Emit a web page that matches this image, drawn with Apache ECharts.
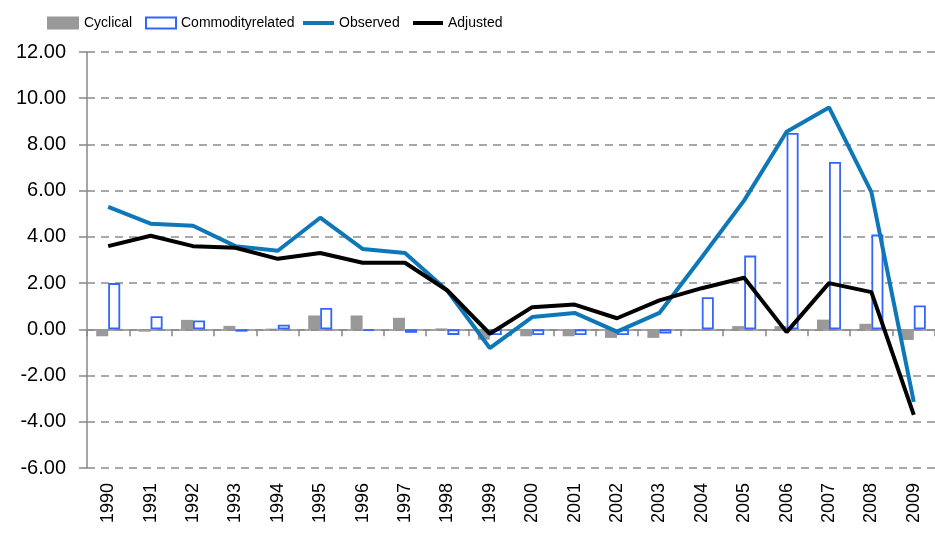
<!DOCTYPE html>
<html>
<head>
<meta charset="utf-8">
<script src="https://cdn.jsdelivr.net/npm/echarts@6/dist/echarts.min.js"></script>
<style>html,body{margin:0;padding:0;background:#fff}#c{width:935px;height:533px}</style>
</head>
<body>
<div id="c"></div>
<script>
var years = ['1990','1991','1992','1993','1994','1995','1996','1997','1998','1999','2000','2001','2002','2003','2004','2005','2006','2007','2008','2009'];
var cyclical = [-0.30,-0.10,0.41,0.15,0.03,0.60,0.60,0.50,0.04,-0.45,-0.30,-0.30,-0.37,-0.37,-0.05,0.14,0.14,0.42,0.24,-0.46];
var commodity = [2.00,0.57,0.38,-0.10,0.20,0.92,-0.07,-0.15,-0.24,-0.25,-0.25,-0.25,-0.25,-0.18,1.39,3.19,8.50,7.24,4.10,1.03];
var observed = [5.30,4.57,4.48,3.60,3.40,4.83,3.48,3.30,1.67,-0.81,0.53,0.71,-0.10,0.71,3.12,5.58,8.55,9.60,5.94,-3.14];
var adjusted = [3.60,4.05,3.60,3.53,3.05,3.30,2.88,2.88,1.68,-0.19,0.96,1.07,0.48,1.25,1.78,2.23,-0.12,2.00,1.61,-3.70];
var yTicks = {min:-6, max:12, interval:2};

var legendFont = {fontFamily:"'Liberation Sans',Arial,sans-serif", fontSize:14, color:'#000'};
var chart = echarts.init(document.getElementById('c'));
chart.setOption({
  animation:false,
  backgroundColor:'#fff',
  grid:{left:87, top:52, width:850, bottom:65, containLabel:false},
  legend:[
    {data:[{name:'Cyclical',icon:'rect'}], left:42, top:11, itemWidth:32, itemHeight:13, textStyle:legendFont},
    {data:[{name:'Commodityrelated',icon:'rect'}], left:140, top:11, itemWidth:30, itemHeight:11, textStyle:legendFont},
    {data:[{name:'Observed',icon:'rect'}], left:298, top:11, itemWidth:31, itemHeight:4, textStyle:legendFont},
    {data:[{name:'Adjusted',icon:'rect'}], left:408, top:11, itemWidth:30, itemHeight:4, textStyle:legendFont}
  ],
  xAxis:[
    {type:'category', data:years, boundaryGap:true,
     axisLine:{onZero:true, lineStyle:{color:'#888', width:1.5}},
     axisTick:{show:true, length:7, lineStyle:{color:'#888', width:1.5}},
     axisLabel:{show:false}, splitLine:{show:false}},
    {type:'category', data:years, position:'bottom', boundaryGap:true,
     axisLine:{show:false, onZero:false}, axisTick:{show:false},
     axisLabel:{show:true, rotate:90, margin:15, fontSize:18, color:'#000', fontFamily:"'Liberation Sans',Arial,sans-serif"}}
  ],
  yAxis:{type:'value', min:yTicks.min, max:yTicks.max, interval:yTicks.interval,
    axisLine:{show:true, lineStyle:{color:'#888', width:1.5}},
    axisTick:{show:true, inside:false, length:8, lineStyle:{color:'#888', width:1.5}},
    axisLabel:{margin:21, fontSize:20, color:'#000', fontFamily:"'Liberation Sans',Arial,sans-serif",
      formatter:function(v){return v.toFixed(2);}},
    splitLine:{show:true, lineStyle:{color:'#8c8c8c', width:1.5, type:[8,6]}}
  },
  series:[
    {name:'Cyclical', type:'bar', xAxisIndex:0, data:cyclical, barWidth:12, barGap:'0%',
     itemStyle:{color:'#999999'}},
    {name:'Commodityrelated', type:'bar', xAxisIndex:0, data:commodity, barWidth:12,
     itemStyle:{color:'#ffffff', borderColor:'#3366ff', borderWidth:1.8}},
    {name:'Observed', type:'line', xAxisIndex:0, data:observed, symbol:'none',
     lineStyle:{color:'#0e77b8', width:4}, itemStyle:{color:'#0e77b8'}},
    {name:'Adjusted', type:'line', xAxisIndex:0, data:adjusted, symbol:'none',
     lineStyle:{color:'#000', width:4}, itemStyle:{color:'#000'}}
  ]
});
</script>
</body>
</html>
